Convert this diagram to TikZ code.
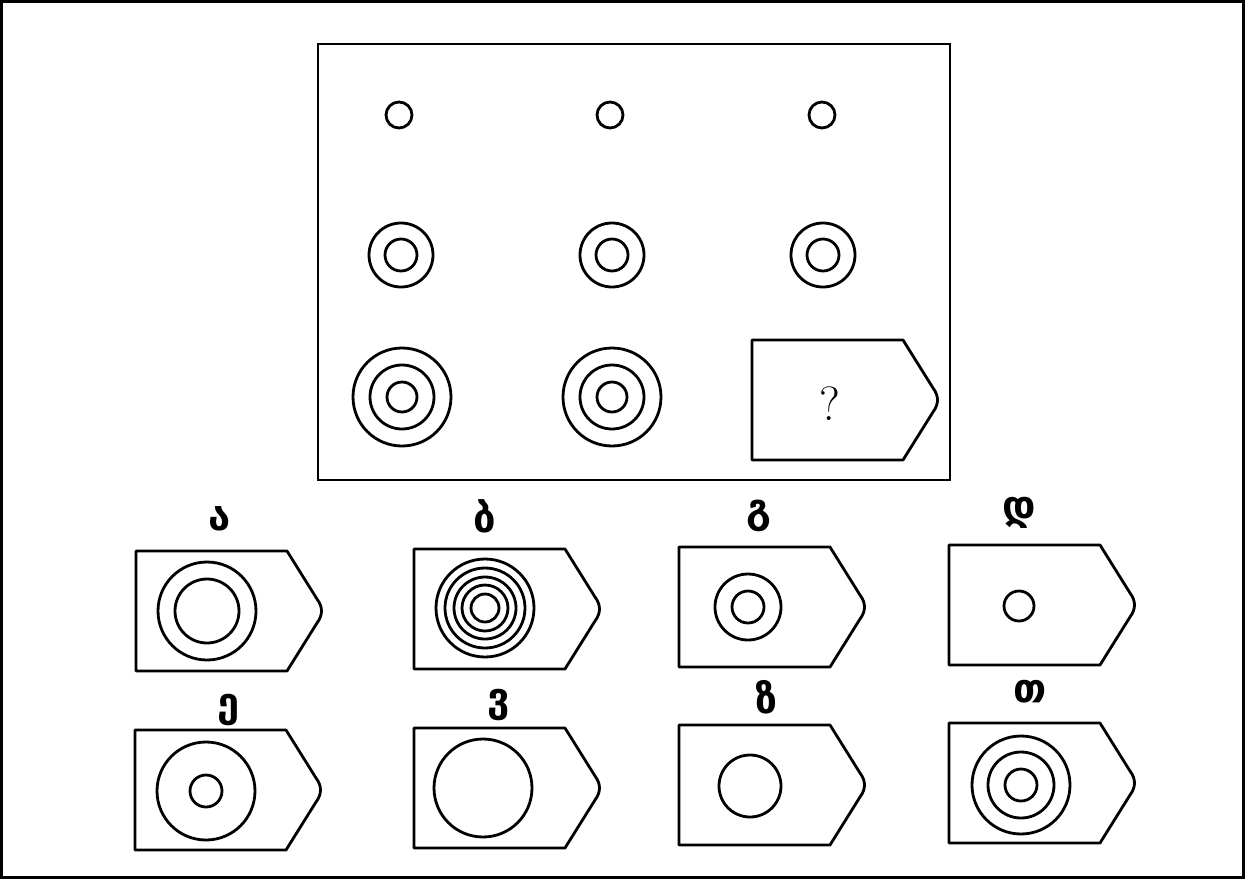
\documentclass[tikz,border=0pt]{standalone}
\usepackage{fontspec}
\newfontfamily\geo{DejaVu Sans}
\begin{document}
\begin{tikzpicture}[x=1pt,y=-1pt,
  shp/.style={line width=2.8pt, black},
  lbl/.style={font=\geo\bfseries\fontsize{40}{40}\selectfont, inner sep=0pt},
  tagbox/.pic={\draw[shp, line join=round] (0,0) -- (151,0) -- (181,48) .. controls (187,56) and (187,64) .. (181,72) -- (151,120) -- (0,120) -- cycle;}]
\useasboundingbox (0,0) rectangle (1245,879);
\fill[white] (0,0) rectangle (1245,879);
\draw[line width=3pt] (1.5,1.5) rectangle (1243.5,877.5);
% main frame
\draw[shp] (318,44) rectangle (950,480);
% row 1
\foreach \x in {399,610,822} \draw[shp] (\x,115) circle[radius=13pt];
% row 2
\foreach \x in {401,612,823} {\draw[shp] (\x,255) circle[radius=32pt]; \draw[shp] (\x,255) circle[radius=16pt];}
% row 3
\foreach \x in {402,612} {\draw[shp] (\x,397) circle[radius=49pt]; \draw[shp] (\x,397) circle[radius=32pt]; \draw[shp] (\x,397) circle[radius=15pt];}
% question box
\pic at (752,340) {tagbox};
\node[font=\fontsize{48}{48}\selectfont] (q) at (830,404) {?};
% options row 1
\pic at (136,551) {tagbox};
\draw[shp] (207,611) circle[radius=49pt]; \draw[shp] (207,611) circle[radius=32pt];
\node[lbl] (a) at (220,519) {ა};
\pic at (414,549) {tagbox};
\foreach \r in {49,40,31,23,14} \draw[shp] (485,608) circle[radius=\r pt];
\node[lbl] (b) at (485,516) {ბ};
\pic at (679,547) {tagbox};
\draw[shp] (748,607) circle[radius=33pt]; \draw[shp] (748,607) circle[radius=16pt];
\node[lbl] (g) at (759,516) {გ};
\pic at (949,545) {tagbox};
\draw[shp] (1019,606) circle[radius=15pt];
\node[lbl] (d) at (1019,513) {დ};
% options row 2
\pic at (135,730) {tagbox};
\draw[shp] (206,791) circle[radius=49pt]; \draw[shp] (206,791) circle[radius=16pt];
\node[lbl] (e) at (229,710) {ე};
\pic at (414,728) {tagbox};
\draw[shp] (483,788) circle[radius=49pt];
\node[lbl] (v) at (499,705) {ვ};
\pic at (679,725) {tagbox};
\draw[shp] (750,786) circle[radius=31pt];
\node[lbl] (z) at (767,697) {ზ};
\pic at (949,723) {tagbox};
\draw[shp] (1021,785) circle[radius=49pt]; \draw[shp] (1021,785) circle[radius=33pt]; \draw[shp] (1021,785) circle[radius=16pt];
\node[lbl] (t) at (1030,692) {თ};
\end{tikzpicture}
\end{document}
